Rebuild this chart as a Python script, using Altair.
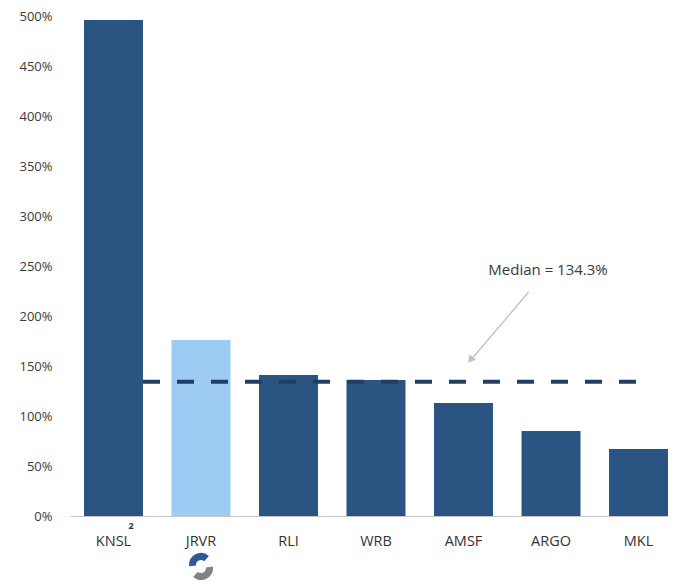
import altair as alt
import pandas as pd

tickers = ["KNSL", "JRVR", "RLI", "WRB", "AMSF", "ARGO", "MKL"]
values = [496, 176, 141, 136, 113, 85, 67]
highlight = ["peer", "jrvr", "peer", "peer", "peer", "peer", "peer"]
median_value = 134.3
median_label = "Median = 134.3%"
y_ticks = [0, 50, 100, 150, 200, 250, 300, 350, 400, 450, 500]

DARK = "#2a5482"
LIGHT = "#9dcbf4"
NAVY = "#1f3f66"
FONT = "Open Sans"

bars_df = pd.DataFrame({"ticker": tickers, "value": values, "group": highlight})

xscale = alt.Scale(domain=tickers, paddingInner=0.326, paddingOuter=0.08, align=1)
yscale = alt.Scale(domain=[0, 500], nice=False)

x_axis = alt.Axis(title=None, labelAngle=0, labelFont=FONT, labelFontSize=14.5,
                  labelColor="#333333", domainColor="#c8c8c8", domainWidth=1,
                  ticks=False, labelPadding=25, labelBaseline="middle")
y_axis = alt.Axis(title=None, values=y_ticks, labelExpr="datum.value + '%'",
                  labelFont=FONT, labelFontSize=13, labelColor="#3a3a3a",
                  domain=False, ticks=False, grid=False, labelPadding=18)

bars = alt.Chart(bars_df).mark_bar().encode(
    x=alt.X("ticker:N", scale=xscale, axis=x_axis, sort=tickers),
    y=alt.Y("value:Q", scale=yscale, axis=y_axis),
    color=alt.Color("group:N", scale=alt.Scale(domain=["peer", "jrvr"], range=[DARK, LIGHT]), legend=None),
)

med_df = pd.DataFrame({"start": ["KNSL"], "end": ["MKL"], "median": [median_value]})
median_rule = alt.Chart(med_df).mark_rule(color=NAVY, strokeWidth=4, strokeDash=[17, 17]).encode(
    x=alt.X("start:N", bandPosition=1.0, scale=xscale, sort=tickers),
    x2=alt.X2("end:N", bandPosition=0.47),
    y=alt.Y("median:Q", scale=yscale),
)

lbl_df = pd.DataFrame({"ticker": ["ARGO"], "y": [246], "text": [median_label]})
label = alt.Chart(lbl_df).mark_text(font=FONT, fontSize=15, color="#3a3a3a").encode(
    x=alt.X("ticker:N", scale=xscale, sort=tickers, bandPosition=0.45),
    y=alt.Y("y:Q", scale=yscale),
    text="text:N",
)

arrow_df = pd.DataFrame({"from": ["ARGO"], "to": ["AMSF"], "y1": [224], "y2": [155]})
arrow_line = alt.Chart(arrow_df).mark_rule(color="#c0c0c0", strokeWidth=1.3).encode(
    x=alt.X("from:N", scale=xscale, sort=tickers, bandPosition=0.12),
    x2=alt.X2("to:N", bandPosition=0.61),
    y=alt.Y("y1:Q", scale=yscale),
    y2="y2:Q",
)
head_df = pd.DataFrame({"to": ["AMSF"], "y2": [157]})
arrow_head = alt.Chart(head_df).mark_point(shape="triangle", filled=True, color="#c0c0c0",
                                           size=70, angle=220, opacity=1).encode(
    x=alt.X("to:N", scale=xscale, sort=tickers, bandPosition=0.63),
    y=alt.Y("y2:Q", scale=yscale),
)

sup_df = pd.DataFrame({"ticker": ["KNSL"], "t": ["2"]})
superscript = alt.Chart(sup_df).mark_text(font=FONT, fontSize=9, fontWeight="bold",
                                          color="#333333", dy=10).encode(
    x=alt.X("ticker:N", scale=xscale, sort=tickers, bandPosition=0.8),
    y=alt.value(500),
    text="t:N",
)

logo_df = pd.DataFrame({"ticker": ["JRVR"], "t": [0]})
logo_blue = alt.Chart(logo_df).mark_arc(color="#2f5a91", radius=12, radius2=5,
                                        theta=4.6, theta2=7.0).encode(
    x=alt.X("ticker:N", scale=xscale, sort=tickers),
    y=alt.value(549),
)
logo_gray = alt.Chart(logo_df).mark_arc(color="#7f8385", radius=12, radius2=5,
                                        theta=1.45, theta2=3.85).encode(
    x=alt.X("ticker:N", scale=xscale, sort=tickers),
    y=alt.value(552),
)

chart = alt.layer(bars, median_rule, label, arrow_line, arrow_head, superscript,
                  logo_blue, logo_gray).properties(
    width=598, height=500,
    autosize=alt.AutoSizeParams(type="none"),
    padding={"left": 62, "top": 8, "right": 0, "bottom": 64},
).configure_view(stroke=None)

chart.save("out.html", embed_options={"renderer": "svg", "actions": False})
